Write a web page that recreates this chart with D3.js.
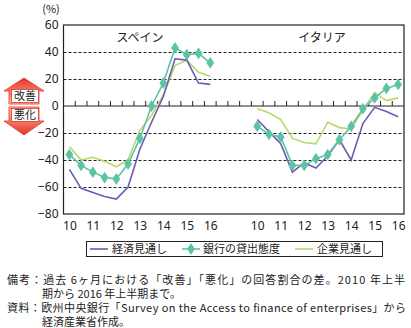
<!DOCTYPE html>
<html><head><meta charset="utf-8">
<script src="https://cdn.jsdelivr.net/npm/d3@7"></script>
<style>
html,body{margin:0;padding:0;background:#fff;}
svg{display:block;font-family:"Noto Sans CJK JP","Noto Sans",sans-serif;}
</style></head>
<body><svg id="c" width="411" height="328"></svg>
<script>
// ---- data ----
const periods = ["10H1","10H2","11H1","11H2","12H1","12H2","13H1","13H2","14H1","14H2","15H1","15H2","16H1"];
const yearLabels = ["10","11","12","13","14","15","16"];
const yTicks = [-80,-60,-40,-20,0,20,40,60];
const seriesNames = ["経済見通し","銀行の貸出態度","企業見通し"];
const panels = ["スペイン","イタリア"];
// Spain
const spainEcon   = [-47,-61,-64,-67,-69,-60,-32,-12,7,35,34,17,16];
const spainBank   = [-36,-44,-49,-53,-54,-43,-24,0,17,43,38,39,32];
const spainFirm   = [-30,-40,-38,-41,-45,-40,-18,-7,8,30,34,25,22];
// Italy
const italyEcon   = [-10,-19,-28,-49,-42,-46,-37,-25,-40,-13,-1,-4,-8];
const italyBank   = [-15,-21,-23,-44,-44,-39,-36,-25,-15,-2,6,13,16];
const italyFirm   = [-2,-5,-10,-24,-27,-28,-12,-16,-17,-3,10,4,6];

const colors = {econ:"#6a5cb4", bank:"#5ec2a6", firm:"#b4da6c"};

const svg = d3.select("#c");
const x = d3.scaleLinear().domain([-0.5,28.5]).range([63.5,404]);
const y = d3.scaleLinear().domain([-80,60]).range([214,25]);
const offsets = [0,16];

// grid
svg.append("g").selectAll("line").data(yTicks.filter(v=>v!==0 && v!==60 && v!==-80)).join("line")
  .attr("x1",x(-0.5)).attr("x2",x(28.5)).attr("y1",d=>y(d)+0.5).attr("y2",d=>y(d)+0.5)
  .attr("stroke","#222").attr("stroke-width",1).attr("stroke-dasharray","3,2");
// zero line
svg.append("line").attr("x1",x(-0.5)).attr("x2",x(28.5)).attr("y1",y(0)).attr("y2",y(0))
  .attr("stroke","#222").attr("stroke-width",1.2);
// minor ticks
svg.append("g").selectAll("line").data(d3.range(0,28)).join("line")
  .attr("x1",d=>x(d+0.5)).attr("x2",d=>x(d+0.5)).attr("y1",y(0)).attr("y2",y(0)-5)
  .attr("stroke","#222").attr("stroke-width",1);
// frame
svg.append("rect").attr("x",x(-0.5)).attr("y",y(60)).attr("width",x(28.5)-x(-0.5)).attr("height",y(-80)-y(60))
  .attr("fill","none").attr("stroke","#222").attr("stroke-width",1.2);

// y axis
const ya = svg.append("g").attr("transform",`translate(${x(-0.5)},0)`)
  .call(d3.axisLeft(y).tickValues(yTicks).tickSize(0).tickPadding(5));
ya.select(".domain").remove();
ya.selectAll("text").attr("font-size",12).attr("fill","#222").attr("font-family","'Noto Sans','Noto Sans CJK JP',sans-serif");
svg.append("text").attr("x",51).attr("y",13).attr("text-anchor","middle").attr("font-size",11).attr("fill","#222").text("(%)");

// x labels
offsets.forEach(off=>{
  const xa = svg.append("g").attr("transform",`translate(0,${y(-80)})`)
    .call(d3.axisBottom(x).tickValues(yearLabels.map((d,i)=>off+i*2)).tickFormat((d,i)=>yearLabels[i]).tickSize(0).tickPadding(7));
  xa.select(".domain").remove();
  xa.selectAll("text").attr("font-size",12).attr("fill","#222").attr("font-family","'Noto Sans','Noto Sans CJK JP',sans-serif");
});

// panel titles
svg.append("text").attr("x",140).attr("y",42).attr("text-anchor","middle").attr("font-size",12).attr("fill","#222").text(panels[0]);
svg.append("text").attr("x",322).attr("y",42).attr("text-anchor","middle").attr("font-size",12).attr("fill","#222").text(panels[1]);

const line = d3.line().x(d=>x(d[0])).y(d=>y(d[1]));
function pts(arr,off){return arr.map((v,i)=>[off+i,v]);}
const groups = [[spainEcon,spainBank,spainFirm,0],[italyEcon,italyBank,italyFirm,16]];
groups.forEach(([e,b,f,off])=>{
  svg.append("path").attr("d",line(pts(f,off))).attr("fill","none").attr("stroke",colors.firm).attr("stroke-width",1.6);
  svg.append("path").attr("d",line(pts(e,off))).attr("fill","none").attr("stroke",colors.econ).attr("stroke-width",1.6);
  svg.append("path").attr("d",line(pts(b,off))).attr("fill","none").attr("stroke",colors.bank).attr("stroke-width",1.6);
  svg.append("g").selectAll("path").data(pts(b,off)).join("path")
    .attr("d",d3.symbol(d3.symbolDiamond,40)).attr("transform",d=>`translate(${x(d[0])},${y(d[1])}) scale(1.15,1)`)
    .attr("fill",colors.bank);
});

// legend
svg.append("rect").attr("x",86.5).attr("y",241.5).attr("width",296).attr("height",15).attr("fill","#fff").attr("stroke","#222").attr("stroke-width",1);
const leg = [[90,108,112,colors.econ,false,seriesNames[0]],[182,200,203,colors.bank,true,seriesNames[1]],[295,313,317,colors.firm,false,seriesNames[2]]];
leg.forEach(([a,b,t,c,m,name])=>{
  svg.append("line").attr("x1",a).attr("x2",b).attr("y1",249).attr("y2",249).attr("stroke",c).attr("stroke-width",1.6);
  if(m) svg.append("path").attr("d",d3.symbol(d3.symbolDiamond,40)).attr("transform",`translate(${(a+b)/2},249) scale(1.15,1)`).attr("fill",c);
  svg.append("text").attr("x",t).attr("y",253).attr("font-size",11).attr("fill","#222").text(name);
});

// arrows
const defs = svg.append("defs");
const gu = defs.append("linearGradient").attr("id","gu").attr("x1",0).attr("y1",0).attr("x2",0).attr("y2",1);
gu.append("stop").attr("offset","0%").attr("stop-color","#e5332a");
gu.append("stop").attr("offset","100%").attr("stop-color","#f9c3a0");
const gd = defs.append("linearGradient").attr("id","gd").attr("x1",0).attr("y1",0).attr("x2",0).attr("y2",1);
gd.append("stop").attr("offset","0%").attr("stop-color","#f9c3a0");
gd.append("stop").attr("offset","100%").attr("stop-color","#e5332a");
svg.append("path").attr("d","M24,78 L44,91 L39,91 L39,104 L9,104 L9,91 L4,91 Z").attr("fill","url(#gu)").attr("stroke","#e5332a").attr("stroke-width",0.8);
svg.append("path").attr("d","M9,107 L39,107 L39,121 L44,121 L24,135 L4,121 L9,121 Z").attr("fill","url(#gd)").attr("stroke","#e5332a").attr("stroke-width",0.8);
svg.append("rect").attr("x",11.5).attr("y",89.5).attr("width",27).attr("height",13).attr("fill","#fff").attr("stroke","#e5332a").attr("stroke-width",0.8);
svg.append("rect").attr("x",11.5).attr("y",108.5).attr("width",27).attr("height",13).attr("fill","#fff").attr("stroke","#e5332a").attr("stroke-width",0.8);
svg.append("text").attr("x",25).attr("y",100).attr("text-anchor","middle").attr("font-size",11).attr("fill","#222").text("改善");
svg.append("text").attr("x",25).attr("y",119).attr("text-anchor","middle").attr("font-size",11).attr("fill","#222").text("悪化");

// notes
const notes = [
  [7,284,"備考：過去 6ヶ月における「改善」「悪化」の回答割合の差。2010 年上半",398],
  [42,298,"期から 2016 年上半期まで。",null],
  [7,312,"資料：欧州中央銀行「Survey on the Access to finance of enterprises」から",399],
  [42,326,"経済産業省作成。",null]
];
notes.forEach(([nx,ny,t,len])=>{
  const tx = svg.append("text").attr("x",nx).attr("y",ny).attr("font-size",11).attr("fill","#222").text(t);
  if(len) tx.attr("textLength",len).attr("lengthAdjust","spacing");
});
</script></body></html>
